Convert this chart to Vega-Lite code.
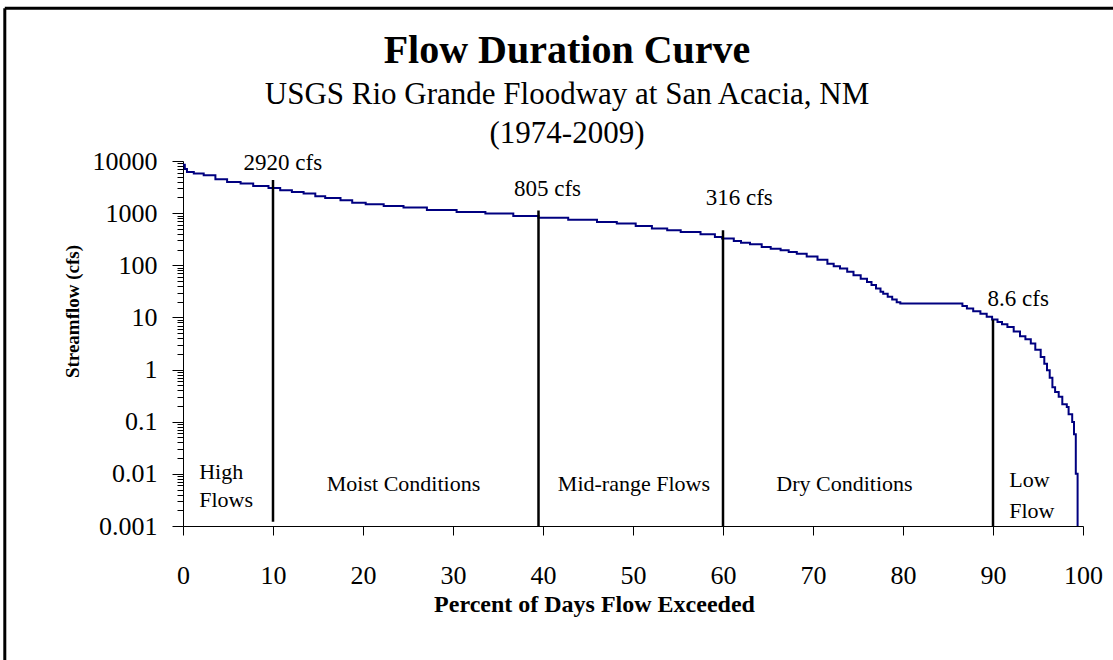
{
  "$schema": "https://vega.github.io/schema/vega-lite/v6.json",
  "width": 900,
  "height": 365,
  "autosize": {"type": "none"},
  "padding": {"left": 183, "top": 161, "right": 30, "bottom": 134},
  "background": "white",
  "config": {"view": {"stroke": null}, "font": "Liberation Serif"},
  "title": {
    "text": "Flow Duration Curve",
    "subtitle": ["USGS Rio Grande Floodway at San Acacia, NM", "(1974-2009)"],
    "font": "Liberation Serif",
    "fontSize": 40,
    "fontWeight": "bold",
    "color": "black",
    "subtitleFont": "Liberation Serif",
    "subtitleFontSize": 31,
    "subtitleColor": "black",
    "subtitleLineHeight": 39,
    "subtitlePadding": 9,
    "anchor": "middle",
    "frame": "group",
    "dx": -66,
    "offset": -142
  },
  "datasets": {
    "curve": [
      {"p": 0, "q": 8500}, {"p": 0.2, "q": 7000}, {"p": 0.44, "q": 6150}, {"p": 1.2, "q": 5730},
      {"p": 2.3, "q": 5320}, {"p": 3.6, "q": 4460}, {"p": 4.9, "q": 3960}, {"p": 6.4, "q": 3690},
      {"p": 7.8, "q": 3320}, {"p": 9.5, "q": 3040}, {"p": 10.8, "q": 2740}, {"p": 12.1, "q": 2540},
      {"p": 13.4, "q": 2370}, {"p": 14.7, "q": 2100}, {"p": 15.8, "q": 1950}, {"p": 17.5, "q": 1760},
      {"p": 18.8, "q": 1590}, {"p": 20.3, "q": 1480}, {"p": 22.3, "q": 1370}, {"p": 24.5, "q": 1280},
      {"p": 27.1, "q": 1150}, {"p": 30.4, "q": 1050}, {"p": 33.6, "q": 980}, {"p": 36.7, "q": 881},
      {"p": 39.5, "q": 820}, {"p": 42.8, "q": 751}, {"p": 46, "q": 676}, {"p": 48.2, "q": 630},
      {"p": 50.3, "q": 566}, {"p": 52.1, "q": 505}, {"p": 53.8, "q": 469}, {"p": 55.3, "q": 435},
      {"p": 57.5, "q": 393}, {"p": 59.1, "q": 349}, {"p": 59.9, "q": 325}, {"p": 61.2, "q": 292},
      {"p": 62, "q": 272}, {"p": 63, "q": 253}, {"p": 64.3, "q": 224}, {"p": 65.3, "q": 208},
      {"p": 66.4, "q": 194}, {"p": 67.3, "q": 180}, {"p": 68.2, "q": 167}, {"p": 69.3, "q": 148},
      {"p": 70.5, "q": 128}, {"p": 71.6, "q": 107}, {"p": 72.3, "q": 96}, {"p": 73, "q": 86.6},
      {"p": 73.8, "q": 75}, {"p": 74.5, "q": 64.4}, {"p": 75.3, "q": 55}, {"p": 76, "q": 48},
      {"p": 76.5, "q": 42}, {"p": 77, "q": 36}, {"p": 77.5, "q": 31}, {"p": 77.8, "q": 28.6},
      {"p": 78.3, "q": 25}, {"p": 78.8, "q": 22}, {"p": 79.3, "q": 19.5}, {"p": 79.7, "q": 18.4},
      {"p": 86.6, "q": 16.5}, {"p": 87.1, "q": 14.8}, {"p": 87.8, "q": 13.2}, {"p": 88.6, "q": 11.8},
      {"p": 89.3, "q": 10.3}, {"p": 89.9, "q": 9.08}, {"p": 90.5, "q": 8.2}, {"p": 91, "q": 7.4},
      {"p": 91.6, "q": 6.55}, {"p": 92.3, "q": 5.4}, {"p": 93, "q": 4.34}, {"p": 93.6, "q": 3.8},
      {"p": 94.2, "q": 3.15}, {"p": 94.7, "q": 2.4}, {"p": 95.3, "q": 1.74}, {"p": 95.7, "q": 1.3},
      {"p": 96, "q": 0.97}, {"p": 96.3, "q": 0.7}, {"p": 96.6, "q": 0.46}, {"p": 96.9, "q": 0.37},
      {"p": 97.3, "q": 0.3}, {"p": 97.7, "q": 0.216}, {"p": 98.2, "q": 0.191}, {"p": 98.4, "q": 0.139},
      {"p": 98.8, "q": 0.0987}, {"p": 99, "q": 0.0573}, {"p": 99.2, "q": 0.0101}, {"p": 99.4, "q": 0.001}
    ],
    "thresholds": [
      {"p": 10, "top": 4300, "bottom": 0.0012},
      {"p": 39.5, "top": 1130, "bottom": 0.001},
      {"p": 60, "top": 469, "bottom": 0.001},
      {"p": 90, "top": 9.08, "bottom": 0.001}
    ],
    "flowLabels": [
      {"p": 11.1, "q": 6640, "text": "2920 cfs"},
      {"p": 40.5, "q": 2100, "text": "805 cfs"},
      {"p": 61.8, "q": 1460, "text": "316 cfs"},
      {"p": 92.8, "q": 16.3, "text": "8.6 cfs"}
    ],
    "zoneCentered": [
      {"p": 24.5, "q": 0.00469, "text": "Moist Conditions"},
      {"p": 50.1, "q": 0.00469, "text": "Mid-range Flows"},
      {"p": 73.5, "q": 0.00469, "text": "Dry Conditions"}
    ],
    "zoneLeft": [
      {"p": 1.8, "q": 0.0081, "text": "High"},
      {"p": 1.8, "q": 0.00231, "text": "Flows"},
      {"p": 91.8, "q": 0.0056, "text": "Low"},
      {"p": 91.8, "q": 0.00145, "text": "Flow"}
    ]
  },
  "layer": [
    {
      "data": {"name": "curve"},
      "mark": {"type": "line", "interpolate": "step-after", "color": "#000080", "strokeWidth": 2},
      "encoding": {
        "x": {
          "field": "p", "type": "quantitative",
          "scale": {"domain": [0, 100], "nice": false, "zero": false},
          "axis": {
            "title": "Percent of Days Flow Exceeded",
            "values": [0, 10, 20, 30, 40, 50, 60, 70, 80, 90, 100],
            "grid": false,
            "tickSize": 9,
            "tickColor": "black",
            "domainColor": "black",
            "labelFont": "Liberation Serif",
            "labelFontSize": 26,
            "labelColor": "black",
            "labelPadding": 27,
            "labelFlush": false,
            "labelOverlap": false,
            "titleFont": "Liberation Serif",
            "titleFontSize": 24,
            "titleFontWeight": "bold",
            "titleColor": "black",
            "titleX": 411,
            "titleY": 78,
            "titleAlign": "center",
            "titleBaseline": "middle"
          }
        },
        "y": {
          "field": "q", "type": "quantitative",
          "scale": {"type": "log", "domain": [0.001, 10000], "nice": false},
          "axis": {
            "title": "Streamflow (cfs)",
            "values": [0.001, 0.002, 0.003, 0.004, 0.005, 0.006, 0.007, 0.008, 0.009,
                       0.01, 0.02, 0.03, 0.04, 0.05, 0.06, 0.07, 0.08, 0.09,
                       0.1, 0.2, 0.3, 0.4, 0.5, 0.6, 0.7, 0.8, 0.9,
                       1, 2, 3, 4, 5, 6, 7, 8, 9,
                       10, 20, 30, 40, 50, 60, 70, 80, 90,
                       100, 200, 300, 400, 500, 600, 700, 800, 900,
                       1000, 2000, 3000, 4000, 5000, 6000, 7000, 8000, 9000, 10000],
            "labelExpr": "abs(log(datum.value)/LN10 - round(log(datum.value)/LN10)) < 0.000001 ? format(datum.value, '~g') : ''",
            "tickSize": {"condition": {"test": "abs(log(datum.value)/LN10 - round(log(datum.value)/LN10)) < 0.000001", "value": 11}, "value": 6},
            "grid": false,
            "tickColor": "black",
            "domainColor": "black",
            "labelFont": "Liberation Serif",
            "labelFontSize": 26,
            "labelColor": "black",
            "labelPadding": 15,
            "labelOverlap": false,
            "labelFlush": false,
            "titleFont": "Liberation Serif",
            "titleFontSize": 19,
            "titleFontWeight": "bold",
            "titleColor": "black",
            "titleAngle": 270,
            "titleX": -111,
            "titleY": 150,
            "titleAlign": "center",
            "titleBaseline": "middle"
          }
        }
      }
    },
    {
      "data": {"name": "thresholds"},
      "mark": {"type": "rule", "color": "black", "strokeWidth": 2.5},
      "encoding": {
        "x": {"field": "p", "type": "quantitative"},
        "y": {"field": "top", "type": "quantitative"},
        "y2": {"field": "bottom"}
      }
    },
    {
      "data": {"name": "flowLabels"},
      "mark": {"type": "text", "font": "Liberation Serif", "fontSize": 23, "color": "black", "align": "center", "baseline": "alphabetic"},
      "encoding": {
        "x": {"field": "p", "type": "quantitative"},
        "y": {"field": "q", "type": "quantitative"},
        "text": {"field": "text"}
      }
    },
    {
      "data": {"name": "zoneCentered"},
      "mark": {"type": "text", "font": "Liberation Serif", "fontSize": 22, "color": "black", "align": "center", "baseline": "alphabetic"},
      "encoding": {
        "x": {"field": "p", "type": "quantitative"},
        "y": {"field": "q", "type": "quantitative"},
        "text": {"field": "text"}
      }
    },
    {
      "data": {"name": "zoneLeft"},
      "mark": {"type": "text", "font": "Liberation Serif", "fontSize": 22, "color": "black", "align": "left", "baseline": "alphabetic"},
      "encoding": {
        "x": {"field": "p", "type": "quantitative"},
        "y": {"field": "q", "type": "quantitative"},
        "text": {"field": "text"}
      }
    },
    {
      "data": {"values": [{}]},
      "mark": {"type": "rule", "color": "black", "strokeWidth": 3},
      "encoding": {
        "x": {"datum": -19.8, "type": "quantitative"},
        "y": {"datum": 8500000, "type": "quantitative"},
        "y2": {"datum": 0.0000001}
      }
    },
    {
      "data": {"values": [{}]},
      "mark": {"type": "rule", "color": "black", "strokeWidth": 3},
      "encoding": {
        "x": {"datum": -19.8, "type": "quantitative"},
        "x2": {"datum": 115},
        "y": {"datum": 8500000, "type": "quantitative"}
      }
    }
  ]
}
